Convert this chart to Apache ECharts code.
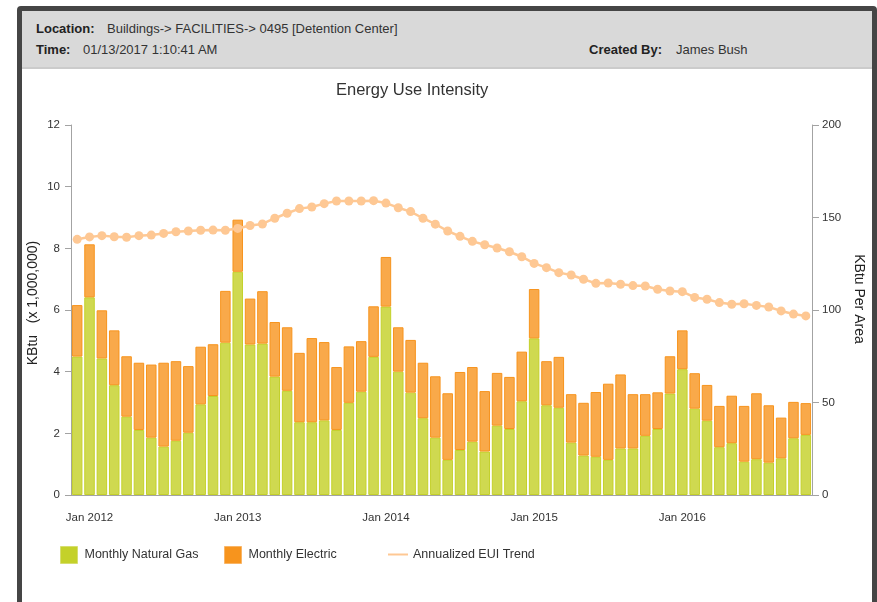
<!DOCTYPE html>
<html>
<head>
<meta charset="utf-8">
<title>Energy Use Intensity</title>
<script src="https://cdn.jsdelivr.net/npm/echarts@6/dist/echarts.min.js"></script>
<style>
  html, body { margin: 0; padding: 0; background: #fff; }
  body { width: 877px; height: 602px; position: relative; overflow: hidden;
         font-family: 'Liberation Sans', Arial, sans-serif; }
  #chart { position: absolute; left: 0; top: 0; width: 877px; height: 602px; }
  .frame { position: absolute; left: 17px; top: 6px; width: 850px; height: 620px;
           border: 5px solid #454545; border-radius: 4px; pointer-events: none; }
  .header { position: absolute; left: 22px; top: 11px; width: 850px; height: 56px;
            background: #d9d9d9; border-bottom: 2px solid #cbcbcb; font-size: 13px; color: #333; }
  .header span { position: absolute; white-space: nowrap; }
  .header b { font-weight: bold; color: #222; }
</style>
</head>
<body>
<div id="chart"></div>
<div class="header">
  <span style="left:14px; top:10px"><b>Location:</b></span>
  <span style="left:85px; top:10px">Buildings-&gt; FACILITIES-&gt; 0495 [Detention Center]</span>
  <span style="left:14px; top:31px"><b>Time:</b></span>
  <span style="left:61px; top:31px">01/13/2017 1:10:41 AM</span>
  <span style="left:567px; top:31px"><b>Created By:</b></span>
  <span style="left:654px; top:31px">James Bush</span>
</div>
<div class="frame"></div>
<script>
const months = [
  'Dec 2011',
  'Jan 2012', 'Feb 2012', 'Mar 2012', 'Apr 2012', 'May 2012', 'Jun 2012',
  'Jul 2012', 'Aug 2012', 'Sep 2012', 'Oct 2012', 'Nov 2012', 'Dec 2012',
  'Jan 2013', 'Feb 2013', 'Mar 2013', 'Apr 2013', 'May 2013', 'Jun 2013',
  'Jul 2013', 'Aug 2013', 'Sep 2013', 'Oct 2013', 'Nov 2013', 'Dec 2013',
  'Jan 2014', 'Feb 2014', 'Mar 2014', 'Apr 2014', 'May 2014', 'Jun 2014',
  'Jul 2014', 'Aug 2014', 'Sep 2014', 'Oct 2014', 'Nov 2014', 'Dec 2014',
  'Jan 2015', 'Feb 2015', 'Mar 2015', 'Apr 2015', 'May 2015', 'Jun 2015',
  'Jul 2015', 'Aug 2015', 'Sep 2015', 'Oct 2015', 'Nov 2015', 'Dec 2015',
  'Jan 2016', 'Feb 2016', 'Mar 2016', 'Apr 2016', 'May 2016', 'Jun 2016',
  'Jul 2016', 'Aug 2016', 'Sep 2016', 'Oct 2016', 'Nov 2016'
]

// KBtu x 1,000,000
const naturalGas = [
  4.49,
  6.41, 4.43, 3.56, 2.54, 2.11, 1.86, 1.57, 1.76, 2.02, 2.94, 3.21, 4.94,
  7.24, 4.88, 4.91, 3.84, 3.38, 2.36, 2.36, 2.42, 2.11, 2.99, 3.35, 4.48,
  6.11, 4.00, 3.32, 2.49, 1.86, 1.14, 1.46, 1.73, 1.41, 2.25, 2.14, 3.04,
  5.08, 2.91, 2.83, 1.70, 1.28, 1.24, 1.14, 1.51, 1.51, 1.92, 2.14, 3.29,
  4.08, 2.80, 2.41, 1.55, 1.68, 1.08, 1.16, 1.05, 1.19, 1.84, 1.95
]

const electric = [
  1.67,
  1.72, 1.56, 1.78, 1.96, 2.18, 2.37, 2.72, 2.58, 2.16, 1.87, 1.68, 1.68,
  1.69, 1.49, 1.70, 1.77, 2.06, 2.25, 2.73, 2.54, 2.04, 1.83, 1.64, 1.64,
  1.61, 1.44, 1.71, 1.80, 1.99, 2.16, 2.53, 2.42, 1.96, 1.71, 1.69, 1.61,
  1.60, 1.43, 1.65, 1.57, 1.71, 2.10, 2.47, 2.40, 1.76, 1.35, 1.19, 1.21,
  1.26, 1.15, 1.16, 1.34, 1.54, 1.81, 2.14, 1.86, 1.32, 1.18, 1.03
]

// KBtu per area
const euiTrend = [
  138.2,
  139.5, 140.2, 139.6, 139.3, 140.2, 140.5, 141.4, 142.3, 142.7, 143.1, 143.2, 143.1,
  144.1, 145.7, 146.5, 149.6, 152.3, 154.8, 155.7, 157.5, 158.9, 158.9, 158.9, 159.1,
  157.8, 155.3, 153.2, 149.6, 146.4, 142.7, 139.8, 137.1, 135.3, 133.5, 131.5, 128.8,
  125.2, 122.9, 120.2, 118.9, 116.6, 114.4, 114.6, 113.9, 113.2, 113.0, 111.2, 110.3,
  109.9, 106.8, 105.8, 104.0, 103.1, 103.4, 102.5, 101.6, 99.5, 97.8, 96.8
]

const font = "'Liberation Sans', Arial, sans-serif"
const axisGray = '#a3a3a3'
const isJan = (i, v) => v.startsWith('Jan')

const chart = echarts.init(document.getElementById('chart'))

chart.setOption({
  animation: false,
  textStyle: { fontFamily: font },
  title: {
    text: 'Energy Use Intensity',
    left: 331,
    top: 77,
    textStyle: { fontSize: 16.5, fontWeight: 'normal', color: '#333', fontFamily: font }
  },
  legend: [
    {
      data: [{ name: 'Monthly Natural Gas', itemStyle: { color: '#c4d12a', borderColor: '#d6de70', borderWidth: 1 } }],
      left: 55, top: 541, itemWidth: 17, itemHeight: 17, icon: 'rect', selectedMode: false,
      textStyle: { fontSize: 12.5, color: '#333', padding: [0, 0, 0, 2] }
    },
    {
      data: [{ name: 'Monthly Electric', itemStyle: { color: '#f7941d', borderColor: '#f9b566', borderWidth: 1 } }],
      left: 219, top: 541, itemWidth: 17, itemHeight: 17, icon: 'rect', selectedMode: false,
      textStyle: { fontSize: 12.5, color: '#333', padding: [0, 0, 0, 2] }
    },
    {
      data: [{ name: 'Annualized EUI Trend', icon: 'path://M0,0h20v2h-20z', itemStyle: { color: '#fec894' } }],
      left: 383, top: 543, itemWidth: 20, itemHeight: 17, selectedMode: false,
      textStyle: { fontSize: 12.5, color: '#333' }
    }
  ],
  grid: { left: 71, right: 65, top: 125, bottom: 107 },
  xAxis: [
    {
      type: 'category',
      data: months,
      axisLine: { lineStyle: { color: axisGray } },
      axisTick: { alignWithLabel: true, interval: 0, length: 4, lineStyle: { color: axisGray } },
      axisLabel: { interval: isJan, margin: 17, fontSize: 11.5, color: '#333' }
    },
    {
      type: 'category',
      data: months,
      position: 'bottom',
      axisLine: { show: false },
      axisTick: { alignWithLabel: true, interval: isJan, length: 8, lineStyle: { color: axisGray } },
      axisLabel: { show: false }
    }
  ],
  yAxis: [
    {
      type: 'value',
      min: 0, max: 12, interval: 2,
      name: 'KBtu   (x 1,000,000)',
      nameLocation: 'middle',
      nameGap: 31,
      nameRotate: 90,
      nameMoveOverlap: false,
      nameTextStyle: { fontSize: 14, color: '#222', padding: [0, 0, 0, 14] },
      axisLine: { show: true, lineStyle: { color: axisGray } },
      axisTick: { show: true, length: 6, lineStyle: { color: axisGray } },
      axisLabel: { fontSize: 11.5, color: '#333', margin: 11 },
      splitLine: { show: false }
    },
    {
      type: 'value',
      position: 'right',
      min: 0, max: 200, interval: 50,
      name: 'KBtu Per Area',
      nameLocation: 'middle',
      nameGap: 40,
      nameRotate: -90,
      nameMoveOverlap: false,
      nameTextStyle: { fontSize: 14, color: '#222', padding: [0, 22, 0, 0] },
      axisLine: { show: true, lineStyle: { color: axisGray } },
      axisTick: { show: true, length: 7, lineStyle: { color: axisGray } },
      axisLabel: { fontSize: 11.5, color: '#333', margin: 10 },
      splitLine: { show: false }
    }
  ],
  series: [
    {
      name: 'Monthly Natural Gas',
      type: 'bar',
      stack: 'energy',
      data: naturalGas,
      barCategoryGap: '15%',
      itemStyle: { color: 'rgba(196,209,42,0.82)', borderColor: '#c4d12a', borderWidth: 1 }
    },
    {
      name: 'Monthly Electric',
      type: 'bar',
      stack: 'energy',
      data: electric,
      barCategoryGap: '15%',
      itemStyle: { color: 'rgba(247,148,29,0.8)', borderColor: '#f7941d', borderWidth: 1 }
    },
    {
      name: 'Annualized EUI Trend',
      type: 'line',
      yAxisIndex: 1,
      data: euiTrend,
      symbol: 'circle',
      symbolSize: 9,
      showAllSymbol: true,
      z: 5,
      lineStyle: { color: '#fec894', width: 2.5 },
      itemStyle: { color: '#fec894' }
    }
  ]
})
</script>
</body>
</html>
